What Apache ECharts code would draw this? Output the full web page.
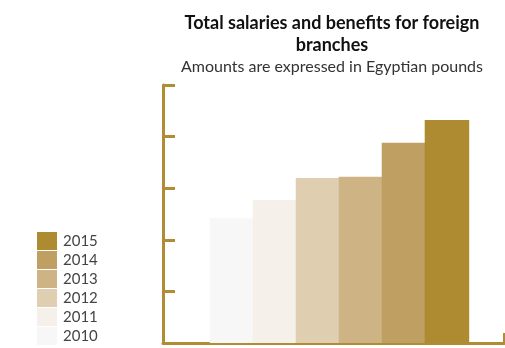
<!DOCTYPE html>
<html>
<head>
<meta charset="utf-8">
<script src="https://cdn.jsdelivr.net/npm/echarts@6/dist/echarts.min.js"></script>
<style>
  html, body { margin: 0; padding: 0; background: #fff; }
  #main { width: 505px; height: 348px; }
</style>
</head>
<body>
<div id="main"></div>
<script>
// years (one series per year) and their values
var years = ['2010', '2011', '2012', '2013', '2014', '2015'];
var values = [24.2, 27.7, 32.0, 32.2, 38.8, 43.2];
var colors = ['#f7f7f7', '#f5f0ea', '#dfcfb0', '#ceb485', '#bf9f62', '#ae8a30'];
var gold = '#b08d34';

var chart = echarts.init(document.getElementById('main'));

var series = years.map(function (y, i) {
    return {
        name: y,
        type: 'bar',
        xAxisIndex: 1,
        yAxisIndex: 1,
        barWidth: 44.5,
        barGap: '-3.4%',
        itemStyle: { color: colors[i] },
        data: [values[i]]
    };
});

var option = {
    animation: false,
    title: {
        text: 'Total salaries and benefits for foreign\nbranches',
        subtext: 'Amounts are expressed in Egyptian pounds',
        left: 327,
        top: 7,
        textAlign: 'center',
        itemGap: 3,
        textStyle: { fontFamily: 'Lato', fontWeight: 'bold', fontSize: 18, lineHeight: 22, color: '#111' },
        subtextStyle: { fontFamily: 'Lato', fontSize: 16, color: '#333' }
    },
    legend: {
        orient: 'vertical',
        left: 37,
        top: 232,
        padding: 0,
        height: 116,
        itemWidth: 20,
        itemHeight: 18,
        itemGap: 1,
        icon: 'rect',
        data: years.slice().reverse(),
        textStyle: { fontFamily: 'Lato', fontSize: 15, lineHeight: 18, color: '#444', padding: [0, 0, 0, 1] }
    },
    grid: [
        { left: 163, right: 1, top: 85, bottom: 5 },
        { left: 175, right: 1, top: 85, bottom: 5 }
    ],
    xAxis: [{
        type: 'category',
        gridIndex: 0,
        data: [''],
        axisLine: { lineStyle: { color: gold, width: 3 } },
        axisTick: { show: true, inside: true, length: 10, lineStyle: { color: gold, width: 2 } },
        axisLabel: { show: false }
    }, {
        type: 'category',
        gridIndex: 1,
        data: [''],
        show: false
    }],
    yAxis: [{
        type: 'value',
        gridIndex: 0,
        min: 0,
        max: 50,
        interval: 10,
        axisLine: { show: true, lineStyle: { color: gold, width: 3 } },
        axisTick: { show: true, inside: true, length: 12, lineStyle: { color: gold, width: 3 } },
        axisLabel: { show: false },
        splitLine: { show: false }
    }, {
        type: 'value',
        gridIndex: 1,
        min: 0,
        max: 50,
        interval: 10,
        show: false
    }],
    series: series
};

chart.setOption(option);
</script>
</body>
</html>
